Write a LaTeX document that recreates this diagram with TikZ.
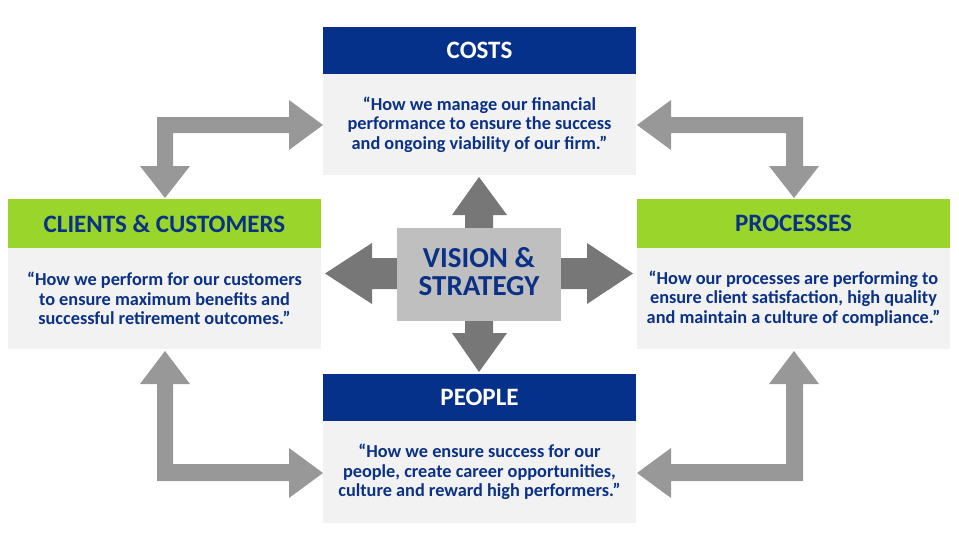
\documentclass[tikz,border=0pt]{standalone}
\usepackage{fontspec}
\setmainfont{Carlito}
\definecolor{navy}{HTML}{05318A}
\definecolor{txtblue}{HTML}{0A3185}
\definecolor{lime}{HTML}{99D52A}
\definecolor{pale}{HTML}{F2F2F2}
\definecolor{cgray}{HTML}{989898}
\definecolor{dgray}{HTML}{777777}
\definecolor{mgray}{HTML}{BFBFBF}
\begin{document}
\begin{tikzpicture}[x=1pt,y=-1pt,
  box/.style={draw=none,inner sep=0pt,outer sep=0pt,minimum width=313pt,anchor=north west},
  navyhdr/.style={box,fill=navy,minimum height=47pt,text=white,font=\bfseries\fontsize{25}{28}\selectfont},
  limehdr/.style={box,fill=lime,minimum height=49pt,text=txtblue,font=\bfseries\fontsize{25}{28}\selectfont},
  bodybox/.style={box,fill=pale,minimum height=101pt,text=txtblue,align=center,font=\bfseries\fontsize{18.3}{19.5}\selectfont},
  cornerarrow/.style={fill=cgray,draw=none},
  centerarrow/.style={fill=dgray,draw=none}]
\useasboundingbox (0,0) rectangle (959,549);
% boxes
\node[navyhdr] (costsH) at (323,27) {COSTS};
\node[bodybox] (costsB) at (323,74) {“How we manage our financial\\performance to ensure the success\\and ongoing viability of our firm.”};
\node[limehdr] (clientsH) at (8,199) {CLIENTS \& CUSTOMERS};
\node[bodybox] (clientsB) at (8,248) {“How we perform for our customers\\to ensure maximum benefits and\\successful retirement outcomes.”};
\node[limehdr] (procH) at (637,199) {PROCESSES};
\node[bodybox] (procB) at (637,248) {“How our processes are performing to\\ensure client satisfaction, high quality\\and maintain a culture of compliance.”};
\node[navyhdr] (peopleH) at (323,374) {PEOPLE};
\node[bodybox,minimum height=102pt] (peopleB) at (323,421) {“How we ensure success for our\\people, create career opportunities,\\culture and reward high performers.”};
% corner arrows
\fill[cornerarrow] (157,117) -- (289,117) -- (289,100) -- (costsB.west |- 0,125) -- (289,150) -- (289,133) -- (173,133) -- (173,166) -- (190,166) -- (165,198) -- (140,166) -- (157,166) -- cycle;
\fill[cornerarrow] (803,117) -- (671,117) -- (671,100) -- (procB.west |- 0,125) -- (671,150) -- (671,133) -- (786,133) -- (786,166) -- (769,166) -- (794,198) -- (819,166) -- (803,166) -- cycle;
\fill[cornerarrow] (157,481) -- (289,481) -- (289,498) -- (peopleB.west |- 0,473) -- (289,448) -- (289,464) -- (173,464) -- (173,384) -- (190,384) -- (165,351) -- (140,384) -- (157,384) -- cycle;
\fill[cornerarrow] (803,481) -- (671,481) -- (671,498) -- (procB.west |- 0,473) -- (671,448) -- (671,464) -- (786,464) -- (786,384) -- (769,384) -- (794,351) -- (819,384) -- (803,384) -- cycle;
% center arrows
\fill[centerarrow] (465,240) -- (465,215) -- (452,215) -- (479,177) -- (507,215) -- (493,215) -- (493,240) -- cycle;
\fill[centerarrow] (410,258) -- (372,258) -- (372,243) -- (325,273.5) -- (372,304) -- (372,289) -- (410,289) -- cycle;
\fill[centerarrow] (550,258) -- (587,258) -- (587,243) -- (633,273.5) -- (587,304) -- (587,289) -- (550,289) -- cycle;
\fill[centerarrow] (465,310) -- (465,333) -- (452,333) -- (479,372) -- (507,333) -- (493,333) -- (493,310) -- cycle;
% center box
\node[fill=mgray,inner sep=0pt,minimum width=164pt,minimum height=93pt] (vision) at (479,274.5) {};
\node[inner sep=0pt,align=center,text=txtblue,yshift=3pt,
  font=\bfseries\fontsize{29}{28}\selectfont] (visionT) at (vision.center) {VISION \&\\STRATEGY};
\end{tikzpicture}
\end{document}
